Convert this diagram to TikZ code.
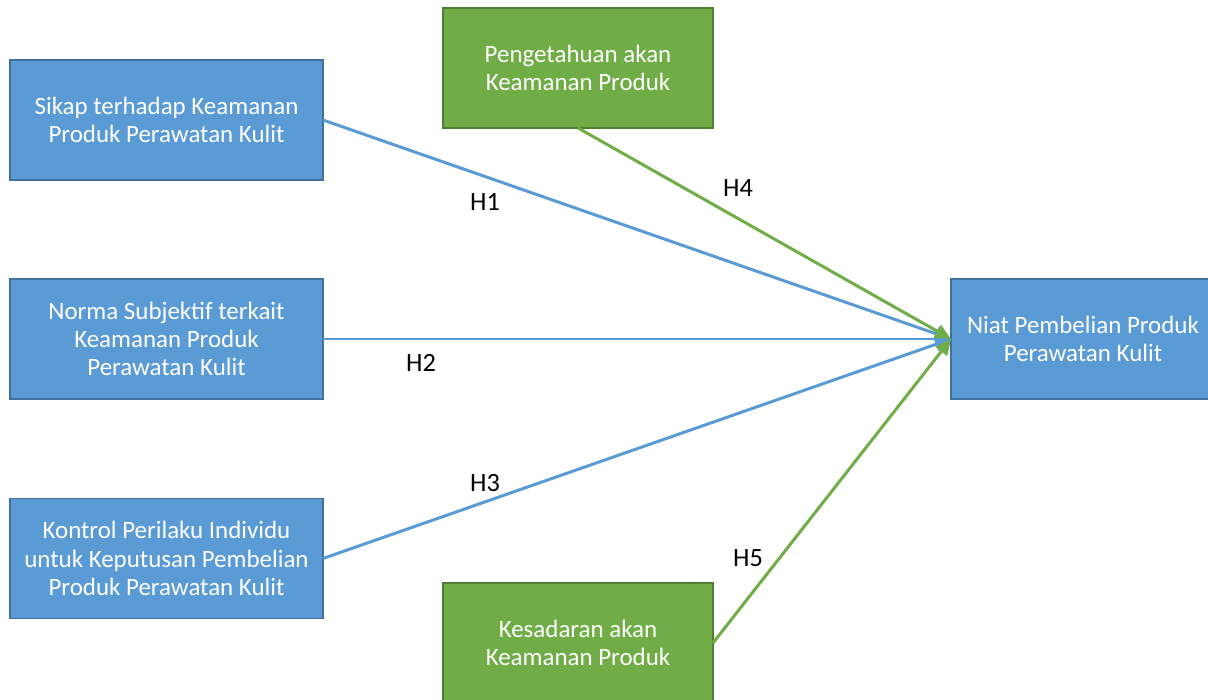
\documentclass[tikz,border=0pt]{standalone}
\usepackage{fontspec}
\setmainfont{Carlito}
\usetikzlibrary{arrows.meta}
\definecolor{birufill}{HTML}{5B9BD5}
\definecolor{birugaris}{HTML}{41719C}
\definecolor{hijaufill}{HTML}{70AD47}
\definecolor{hijaugaris}{HTML}{507E32}
\begin{document}
\begin{tikzpicture}[
    x=0.02cm,
    y=-0.02cm,
    >={Triangle[length=9pt,width=8pt]},
    font=\fontsize{14.2}{16}\selectfont,
    variabel/.style={draw=birugaris,line width=0.8pt,fill=birufill,text=white,
        align=center,minimum width=6.26cm,minimum height=2.4cm,inner sep=2pt,outer sep=0pt},
    moderator/.style={variabel,draw=hijaugaris,fill=hijaufill,minimum width=5.4cm},
    jalurbiru/.style={line width=1.7pt,birufill,->},
    jalurhijau/.style={line width=1.7pt,hijaufill,->},
    hipotesis/.style={font=\fontsize{15}{16}\selectfont,text=black}
]
    % Bidang gambar
    \clip (0,0) rectangle (1208,700);
    \fill[white] (0,0) rectangle (1208,700);

    % Variabel bebas
    \node[variabel] (sikap) at (166.5,120)
        {Sikap terhadap Keamanan\\Produk Perawatan Kulit};
    \node[variabel] (norma) at (166.5,339)
        {Norma Subjektif terkait\\Keamanan Produk\\Perawatan Kulit};
    \node[variabel] (kontrol) at (166.5,558.5)
        {Kontrol Perilaku Individu\\untuk Keputusan Pembelian\\Produk Perawatan Kulit};

    % Variabel moderator
    \node[moderator] (tahu) at (578,68)
        {Pengetahuan akan\\Keamanan Produk};
    \node[moderator] (sadar) at (578,643)
        {Kesadaran akan\\Keamanan Produk};

    % Variabel terikat
    \node[variabel,minimum width=5.28cm] (niat) at (1083,339)
        {Niat Pembelian Produk\\Perawatan Kulit};

    % Jalur hipotesis
    \draw[jalurbiru] (sikap.east) -- (niat.west);
    \draw[jalurbiru] (norma.east) -- (niat.west);
    \draw[jalurbiru] (kontrol.east) -- (niat.west);
    \draw[jalurhijau] (tahu.south) -- (niat.west);
    \draw[jalurhijau] (sadar.east) -- (niat.west);

    \node[hipotesis] (h1) at (485,202) {H1};
    \node[hipotesis] (h2) at (421,363) {H2};
    \node[hipotesis] (h3) at (485,483) {H3};
    \node[hipotesis] (h4) at (738,188) {H4};
    \node[hipotesis] (h5) at (748,558) {H5};
\end{tikzpicture}
\end{document}
